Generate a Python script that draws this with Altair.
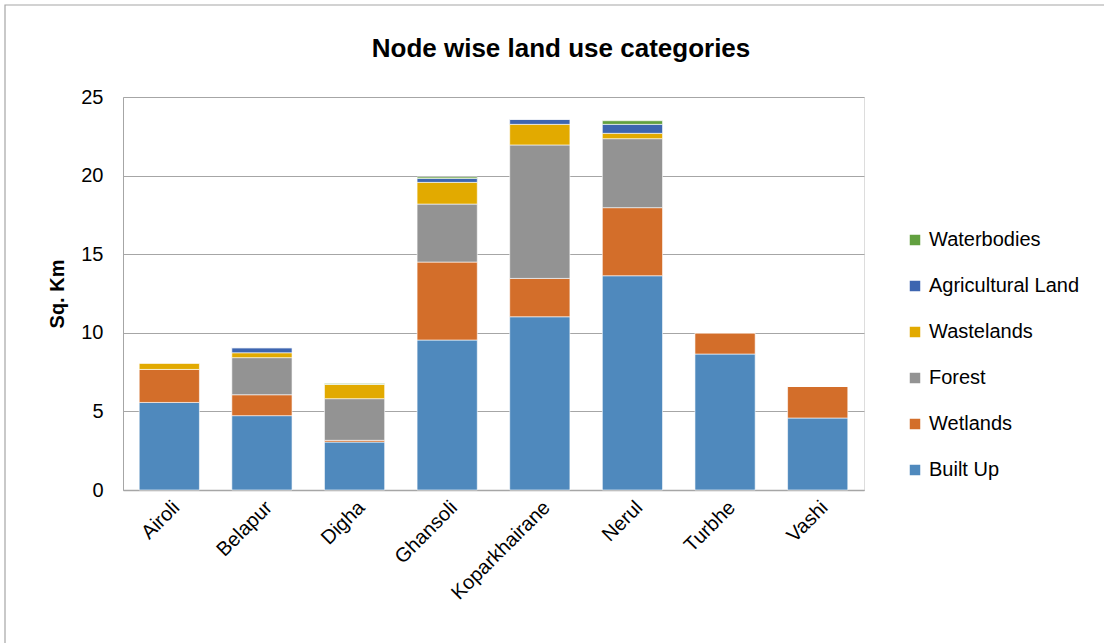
import altair as alt
import pandas as pd

# Land use (sq. km) per node, stacked from Built Up upwards
nodes = ["Airoli", "Belapur", "Digha", "Ghansoli", "Koparkhairane", "Nerul", "Turbhe", "Vashi"]
built_up = [5.57, 4.73, 3.05, 9.54, 11.02, 13.63, 8.65, 4.58]
wetlands = [2.10, 1.33, 0.11, 4.96, 2.44, 4.33, 1.36, 2.01]
forest = [0.00, 2.36, 2.65, 3.69, 8.49, 4.39, 0.00, 0.00]
wastelands = [0.41, 0.31, 0.91, 1.38, 1.31, 0.34, 0.00, 0.00]
agricultural = [0.00, 0.32, 0.00, 0.25, 0.32, 0.57, 0.00, 0.00]
waterbodies = [0.00, 0.00, 0.06, 0.09, 0.00, 0.23, 0.00, 0.00]

stack_order = ["Built Up", "Wetlands", "Forest", "Wastelands", "Agricultural Land", "Waterbodies"]
series = [built_up, wetlands, forest, wastelands, agricultural, waterbodies]
colors = ["#4f89bd", "#d36e2a", "#939393", "#e2aa00", "#3d65b0", "#62a03f"]

rows = []
for k, (name, vals) in enumerate(zip(stack_order, series)):
    for node, v in zip(nodes, vals):
        rows.append({"Node": node, "Category": name, "Area": v, "rank": k})
df = pd.DataFrame(rows)

FONT = "Liberation Sans"

legend_order = stack_order[::-1]
color_range = colors[::-1]

bars = alt.Chart(df).mark_bar(stroke="white", strokeWidth=0.6).encode(
    x=alt.X("Node:N", sort=nodes, title=None,
            scale=alt.Scale(paddingInner=0.35, paddingOuter=0.175),
            axis=alt.Axis(labelAngle=-45, labelFontSize=20, labelFont=FONT,
                          labelColor="#000", domainColor="#a6a6a6", ticks=False,
                          labelPadding=7, domainWidth=1.5)),
    y=alt.Y("Area:Q", title="Sq. Km", stack="zero",
            scale=alt.Scale(domain=[0, 25]),
            axis=alt.Axis(values=[0, 5, 10, 15, 20, 25], labelFontSize=20, labelFont=FONT,
                          labelColor="#000", ticks=False, labelPadding=20,
                          domainColor="#a6a6a6", gridColor="#a6a6a6", gridWidth=1.2,
                          titleFont=FONT, titleFontSize=20, titleFontWeight="bold",
                          titleColor="#000", titlePadding=13)),
    color=alt.Color("Category:N",
                    scale=alt.Scale(domain=legend_order, range=color_range),
                    legend=alt.Legend(title=None, orient="none", legendX=782, legendY=133,
                                      symbolType="square", symbolSize=110, symbolStrokeWidth=0,
                                      labelFont=FONT, labelFontSize=20, labelColor="#000",
                                      rowPadding=26, labelOffset=4)),
    order=alt.Order("rank:Q", sort="ascending"),
)

# chart title drawn as a text mark above the plot area
title = alt.Chart(pd.DataFrame({"t": ["Node wise land use categories"]})).mark_text(
    font=FONT, fontSize=26, fontWeight="bold", color="#000", align="center", baseline="alphabetic"
).encode(text="t:N", x=alt.value(438), y=alt.value(-40))

# thin grey frame around the whole figure
frame = alt.Chart(pd.DataFrame({"f": [0]})).mark_rect(
    fill=None, stroke="#a6a6a6", strokeWidth=1.2
).encode(x=alt.value(-118), x2=alt.value(990), y=alt.value(-92), y2=alt.value(560))

chart = alt.layer(frame, title, bars).properties(
    width=741, height=393,
    autosize=alt.AutoSizeParams(type="none"),
    padding={"left": 123, "top": 97, "right": 240, "bottom": 153},
).configure_view(stroke=None).configure(background="white")

chart.save("out.html", embed_options={"renderer": "svg", "actions": False})
